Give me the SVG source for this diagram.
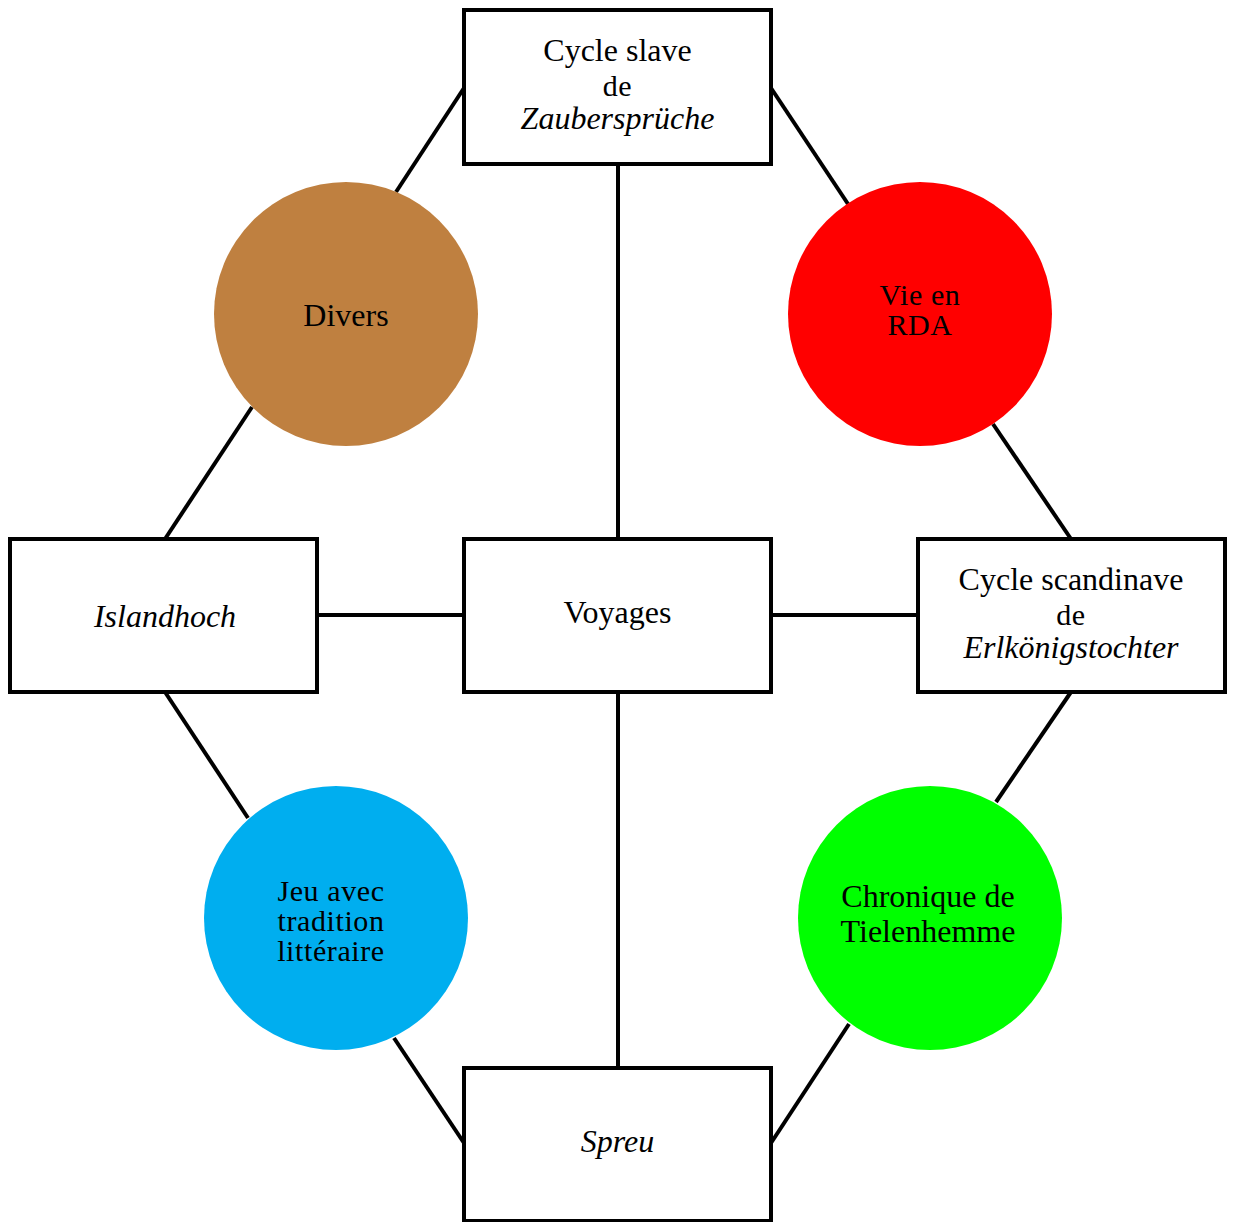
<svg xmlns="http://www.w3.org/2000/svg" width="1235" height="1222" viewBox="0 0 1235 1222">
  <style>
    .box { fill: #ffffff; stroke: #000000; stroke-width: 4; }
    .edge { stroke: #000000; stroke-width: 4; fill: none; }
    text { font-family: "Liberation Serif", "DejaVu Serif", serif; font-size: 32px; fill: #000000; text-anchor: middle; }
    .it { font-style: italic; }
    .tight { font-size: 30px; letter-spacing: 0.6px; }
  </style>
  <rect width="1235" height="1222" fill="#ffffff"/>

  <g id="connectors">
    <line class="edge" x1="464" y1="88" x2="396" y2="192"/>
    <line class="edge" x1="252" y1="407" x2="165" y2="539"/>
    <line class="edge" x1="771" y1="88" x2="848" y2="204"/>
    <line class="edge" x1="993" y1="424" x2="1071" y2="539"/>
    <line class="edge" x1="317" y1="615" x2="464" y2="615"/>
    <line class="edge" x1="771" y1="615" x2="918" y2="615"/>
    <line class="edge" x1="618" y1="164" x2="618" y2="539"/>
    <line class="edge" x1="618" y1="692" x2="618" y2="1068"/>
    <line class="edge" x1="165" y1="692" x2="248" y2="818"/>
    <line class="edge" x1="394" y1="1038" x2="464" y2="1143"/>
    <line class="edge" x1="1071" y1="692" x2="996" y2="802"/>
    <line class="edge" x1="849" y1="1024" x2="771" y2="1143"/>
  </g>

  <g id="zaubersprueche">
    <rect class="box" x="464" y="10" width="307" height="154"/>
    <text x="617.5" y="61">Cycle slave</text>
    <text class="tight" x="617.5" y="96">de</text>
    <text class="it" x="617.5" y="129">Zaubersprüche</text>
  </g>

  <g id="divers">
    <circle cx="346" cy="314" r="132" fill="#bf8040"/>
    <text x="346" y="326">Divers</text>
  </g>

  <g id="rda">
    <circle cx="920" cy="314" r="132" fill="#ff0000"/>
    <text class="tight" x="920" y="305">Vie en</text>
    <text class="tight" x="920" y="335">RDA</text>
  </g>

  <g id="islandhoch">
    <rect class="box" x="10" y="539" width="307" height="153"/>
    <text class="it" x="165" y="627">Islandhoch</text>
  </g>

  <g id="voyages">
    <rect class="box" x="464" y="539" width="307" height="153"/>
    <text x="617.5" y="623">Voyages</text>
  </g>

  <g id="erlkoenigstochter">
    <rect class="box" x="918" y="539" width="307" height="153"/>
    <text x="1071" y="590">Cycle scandinave</text>
    <text class="tight" x="1071" y="625">de</text>
    <text class="it" x="1071" y="658">Erlkönigstochter</text>
  </g>

  <g id="tradition">
    <circle cx="336" cy="918" r="132" fill="#00aeef"/>
    <text class="tight" x="331" y="901">Jeu avec</text>
    <text class="tight" x="331" y="931">tradition</text>
    <text class="tight" x="331" y="961">littéraire</text>
  </g>

  <g id="tielenhemme">
    <circle cx="930" cy="918" r="132" fill="#00ff00"/>
    <text x="928" y="907">Chronique de</text>
    <text x="928" y="942">Tielenhemme</text>
  </g>

  <g id="spreu">
    <rect class="box" x="464" y="1068" width="307" height="153"/>
    <text class="it" x="617.5" y="1152">Spreu</text>
  </g>
</svg>
